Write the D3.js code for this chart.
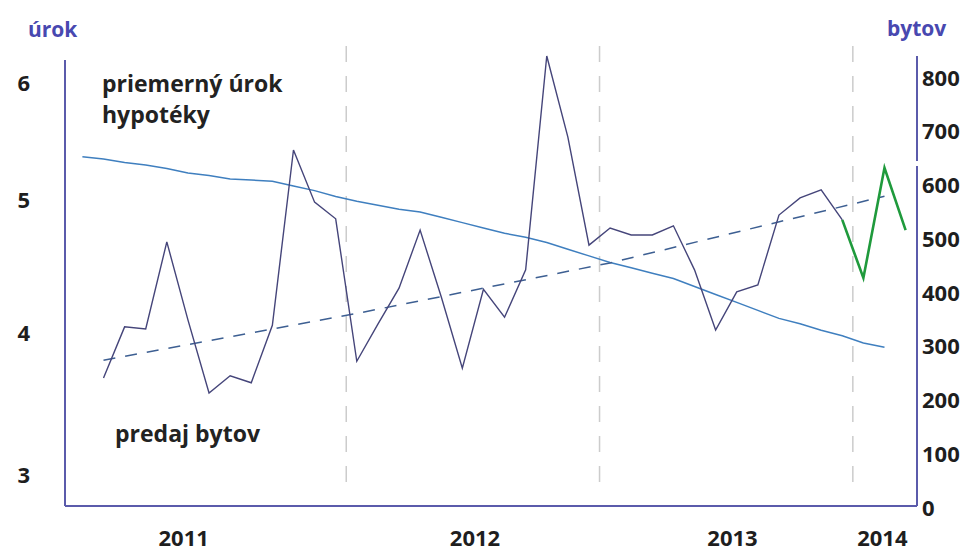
<!DOCTYPE html>
<html>
<head>
<meta charset="utf-8">
<script src="https://cdn.jsdelivr.net/npm/d3@7"></script>
<style>
  body { margin: 0; background: #fff; }
  svg text { font-family: "Open Sans", Lato, sans-serif; font-weight: bold; }
</style>
</head>
<body>
<div class="canvas"></div>
<script>
// months counted from Jan 2011 (0) to Mar 2014 (38)
const salesMonths = d3.range(0, 39)
// predaj bytov, monthly (right axis)
const sales = [242, 337, 333, 495, 350, 214, 246, 233, 340, 666, 569, 538,
  273, 342, 409, 517, 393, 260, 407, 355, 443, 841, 690, 489,
  521, 508, 508, 525, 443, 331, 402, 415, 545, 577, 592, 536,
  428, 633, 517]
const lastDarkMonth = 35 // from Dec 2013 on the line is green

// priemerny urok hypoteky, from Dec 2010 (-1) to Feb 2014 (37), left axis
const rateMonths = d3.range(-1, 38)
const rate = [5.37, 5.35, 5.32, 5.30, 5.27, 5.23, 5.21, 5.18, 5.17, 5.16, 5.12, 5.08, 5.03,
  4.99, 4.96, 4.93, 4.91, 4.87, 4.83, 4.79, 4.75, 4.72, 4.68, 4.63, 4.58,
  4.53, 4.49, 4.45, 4.41, 4.35, 4.29, 4.23, 4.17, 4.11, 4.07, 4.02, 3.98,
  3.93, 3.90]

// dashed trend of sales
const trendMonths = [0, 12, 24, 37]
const trend = [275, 362, 456, 580]

// axes
const rateTicks = [3, 4, 5, 6]
const salesTicks = [0, 100, 200, 300, 400, 500, 600, 700, 800]
const years = ['2011', '2012', '2013', '2014']
const yearLabelMonth = [3.8, 17.6, 29.8, 36.9]
const yearBreaks = [11.5, 23.5, 35.5]

const dims = { width: 970, height: 554 }
const plot = { left: 65, right: 917, top: 58, bottom: 506 }
const axisColour = '#5b5bab'

const svg = d3.select('.canvas')
  .append('svg')
  .attr('width', dims.width)
  .attr('height', dims.height)

const x = d3.scaleLinear().domain([0, 38]).range([103.5, 905.6])
const yRate = d3.scaleLinear().domain([3, 4, 5, 6]).range([475, 333, 200, 83])
const ySales = d3.scaleLinear().domain([0, 800]).range([508, 78])

// year separators
svg.append('g').selectAll('line')
  .data(yearBreaks)
  .enter().append('line')
  .attr('x1', d => x(d)).attr('x2', d => x(d))
  .attr('y1', 46).attr('y2', 488)
  .attr('stroke', '#cccccc')
  .attr('stroke-width', 1.5)
  .attr('stroke-dasharray', '16,14')

// axis lines (right one has a small break near 650)
svg.append('line')
  .attr('x1', plot.left).attr('x2', plot.left)
  .attr('y1', 60).attr('y2', plot.bottom)
  .attr('stroke', axisColour).attr('stroke-width', 2)
svg.append('line')
  .attr('x1', plot.right).attr('x2', plot.right)
  .attr('y1', 56).attr('y2', 161)
  .attr('stroke', axisColour).attr('stroke-width', 2)
svg.append('line')
  .attr('x1', plot.right).attr('x2', plot.right)
  .attr('y1', 166).attr('y2', plot.bottom)
  .attr('stroke', axisColour).attr('stroke-width', 2)
svg.append('line')
  .attr('x1', plot.left).attr('x2', plot.right)
  .attr('y1', plot.bottom).attr('y2', plot.bottom)
  .attr('stroke', axisColour).attr('stroke-width', 2)

// tick labels
const leftAxis = svg.append('g')
  .attr('transform', `translate(${plot.left},0)`)
  .call(d3.axisLeft(yRate).tickValues(rateTicks).tickSize(0).tickPadding(35).tickFormat(d3.format('d')))
const rightAxis = svg.append('g')
  .attr('transform', `translate(${plot.right},0)`)
  .call(d3.axisRight(ySales).tickValues(salesTicks).tickSize(0).tickPadding(5))
;[leftAxis, rightAxis].forEach(g => {
  g.select('.domain').remove()
  g.selectAll('text')
    .attr('font-family', '"Open Sans", sans-serif')
    .attr('font-size', 22)
    .attr('font-weight', 'bold')
    .attr('fill', '#1e1e1e')
})

svg.append('g').selectAll('text')
  .data(years)
  .enter().append('text')
  .attr('x', (d, i) => x(yearLabelMonth[i]))
  .attr('y', 546)
  .attr('text-anchor', 'middle')
  .attr('font-size', 22)
  .attr('fill', '#1e1e1e')
  .text(d => d)

// axis titles
svg.append('text').attr('x', 28).attr('y', 37)
  .attr('font-size', 21).attr('fill', '#4848b0').text('úrok')
svg.append('text').attr('x', 887).attr('y', 36)
  .attr('font-size', 21).attr('fill', '#4848b0').text('bytov')

// series labels
svg.append('text').attr('x', 102).attr('y', 92)
  .attr('font-size', 23).attr('fill', '#222').text('priemerný úrok')
svg.append('text').attr('x', 102).attr('y', 123)
  .attr('font-size', 23).attr('fill', '#222').text('hypotéky')
svg.append('text').attr('x', 115).attr('y', 442)
  .attr('font-size', 23).attr('fill', '#222').text('predaj bytov')

// lines
const rateLine = d3.line()
  .x((d, i) => x(rateMonths[i]))
  .y(d => yRate(d))
svg.append('path')
  .datum(rate)
  .attr('d', rateLine)
  .attr('fill', 'none')
  .attr('stroke', '#3f7fbf')
  .attr('stroke-width', 1.5)

const trendLine = d3.line()
  .x((d, i) => x(trendMonths[i]))
  .y(d => ySales(d))
svg.append('path')
  .datum(trend)
  .attr('d', trendLine)
  .attr('fill', 'none')
  .attr('stroke', '#3d5f92')
  .attr('stroke-width', 1.5)
  .attr('stroke-dasharray', '12,10')

const salesPoints = sales.map((v, i) => ({ m: salesMonths[i], v }))
const salesLine = d3.line()
  .x(d => x(d.m))
  .y(d => ySales(d.v))
svg.append('path')
  .datum(salesPoints.filter(d => d.m <= lastDarkMonth))
  .attr('d', salesLine)
  .attr('fill', 'none')
  .attr('stroke', '#45457a')
  .attr('stroke-width', 1.4)
svg.append('path')
  .datum(salesPoints.filter(d => d.m >= lastDarkMonth))
  .attr('d', salesLine)
  .attr('fill', 'none')
  .attr('stroke', '#1f9a3c')
  .attr('stroke-width', 2.6)
</script>
</body>
</html>
